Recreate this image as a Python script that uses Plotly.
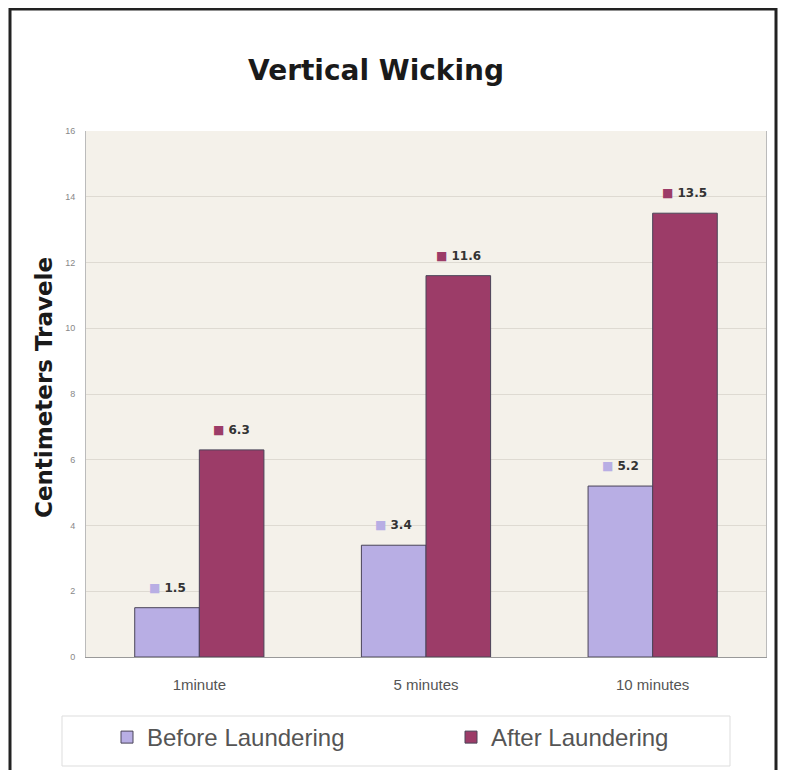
import plotly.graph_objects as go

categories = ["1minute", "5 minutes", "10 minutes"]
before = [1.5, 3.4, 5.2]
after = [6.3, 11.6, 13.5]
series_names = ["Before Laundering", "After Laundering"]
colors = ["#b8aee4", "#9c3c68"]
y_ticks = [0, 2, 4, 6, 8, 10, 12, 14, 16]

# page body has an 8px margin, so figure is offset by 8px
OFF = 8
W, H = 788 - OFF, 770 - OFF
ml, mr, mt, mb = 86 - OFF, 22, 131 - OFF, 113
pw, ph = W - ml - mr, H - mt - mb

def px_x(x):
    return (x - OFF - ml) / pw

def px_y(y):
    return (H - mb - (y - OFF)) / ph

legend_ids = ["legend", "legend2"]
legend_x_px = [107, 451]

fig = go.Figure()
for name, vals, col, lg in zip(series_names, [before, after], colors, legend_ids):
    fig.add_trace(go.Bar(
        x=categories, y=vals, name=name, legend=lg,
        marker=dict(color=col, line=dict(color="#4a4458", width=1)),
    ))

bargap = 0.43
bw_px = pw / len(categories) * (1 - bargap) / 2
annotations = []
for si, (vals, col) in enumerate(zip([before, after], colors)):
    shift = (-0.5 if si == 0 else 0.5) * bw_px
    for c, v in zip(categories, vals):
        annotations.append(dict(
            x=c, y=v, xref="x", yref="y", xshift=shift, yshift=20,
            text=f"<span style='color:{col}'>■</span> {v}",
            showarrow=False, font=dict(family="DejaVu Sans", size=12, color="#333333", weight="bold"),
        ))

annotations.append(dict(
    x=px_x(376), y=px_y(70), xref="paper", yref="paper", xanchor="center", yanchor="middle",
    text="<b>Vertical Wicking</b>", showarrow=False,
    font=dict(family="DejaVu Sans", size=28, color="#1a1a1a"),
))
annotations.append(dict(
    x=px_x(44), y=px_y(388), xref="paper", yref="paper", xanchor="center", yanchor="middle",
    text="<b>Centimeters Travele</b>", showarrow=False, textangle=-90,
    font=dict(family="DejaVu Sans", size=23, color="#1a1a1a"),
))

legend_style = dict(
    orientation="h", xanchor="left", y=px_y(715), yanchor="top",
    font=dict(family="Liberation Sans, Arial", size=24, color="#555555"),
    borderwidth=0, bgcolor="rgba(0,0,0,0)", itemwidth=30,
)

fig.update_layout(
    width=W, height=H,
    margin=dict(l=ml, r=mr, t=mt, b=mb, autoexpand=False),
    paper_bgcolor="white",
    plot_bgcolor="#f4f1ea",
    barmode="group",
    bargap=bargap,
    bargroupgap=0,
    annotations=annotations,
    showlegend=True,
    legend=dict(x=px_x(legend_x_px[0]), **legend_style),
    legend2=dict(x=px_x(legend_x_px[1]), **legend_style),
    xaxis=dict(
        showline=True, linecolor="#999999", linewidth=1,
        tickfont=dict(family="Liberation Sans, Arial", size=15, color="#555555"),
        ticks="", ticklabelstandoff=14,
    ),
    yaxis=dict(
        range=[0, 16], tickvals=y_ticks,
        showgrid=True, gridcolor="#dedad2", gridwidth=1,
        showline=True, linecolor="#bbbbbb", mirror=True,
        tickfont=dict(family="Liberation Sans, Arial", size=9, color="#888888"),
        ticklabelstandoff=8,
        zeroline=False,
    ),
    shapes=[
        dict(
            type="rect", xref="paper", yref="paper",
            x0=px_x(62), x1=px_x(730), y0=px_y(766), y1=px_y(716),
            line=dict(color="#dddddd", width=1), fillcolor="white", layer="below",
        ),
        dict(
            type="rect", xref="paper", yref="paper",
            x0=px_x(10), x1=px_x(776), y0=px_y(790), y1=px_y(9),
            line=dict(color="#222222", width=3), fillcolor="rgba(0,0,0,0)", layer="below",
        ),
    ],
)

fig.write_html("out.html")
